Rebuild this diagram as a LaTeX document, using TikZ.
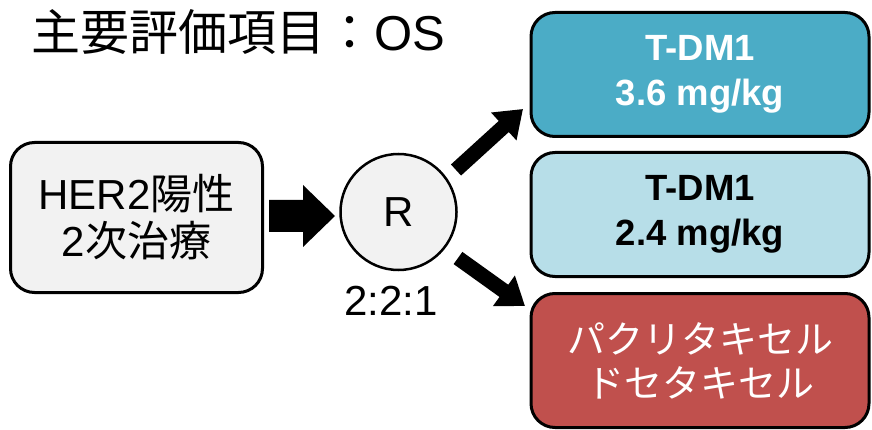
\documentclass[tikz,border=0pt]{standalone}
\usepackage{fontspec}
\setmainfont{Liberation Sans}
\newfontfamily\jp{Noto Sans CJK JP}
\usetikzlibrary{arrows.meta}
\definecolor{boxgray}{HTML}{F2F2F2}
\definecolor{tdmA}{HTML}{4BACC6}
\definecolor{tdmB}{HTML}{B7DEE8}
\definecolor{ptx}{HTML}{C0504D}
\tikzset{
  x=1pt,y=-1pt,
  rbox/.style={draw=black,line width=3pt,rounded corners=24pt,align=center,inner sep=0pt},
  armbox/.style={rbox,minimum width=338pt,minimum height=124pt},
  blockarrow/.style={fill=black},
  diagarrow/.style={line width=15pt,-{Triangle[length=26pt,width=36pt]}},
}
\begin{document}
\begin{tikzpicture}
\useasboundingbox (0,0) rectangle (872,430);
% title
\node[anchor=west,font=\jp\fontsize{49}{55}\selectfont,inner sep=0pt] (title) at (31,32) {主要評価項目：{\rmfamily OS}};
% left box
\node[rbox,fill=boxgray,minimum width=252pt,minimum height=150pt,font=\fontsize{42}{47}\selectfont] (src) at (136.5,217.5) {HER2{\jp 陽性}\\2{\jp 次治療}};
% circle
\node[draw=black,line width=2.5pt,circle,fill=boxgray,minimum size=116pt,inner sep=0pt,font=\fontsize{42}{46}\selectfont] (R) at (398.5,212) {R};
\node[font=\fontsize{42}{46}\selectfont,inner sep=0pt] (ratio) at (391,301) {2:2:1};
% arms
\node[armbox,fill=tdmA,text=white,font=\bfseries\fontsize{36.5}{45}\selectfont] (arm1) at (700,74.5) {T-DM1\\3.6 mg/kg};
\node[armbox,fill=tdmB,text=black,font=\bfseries\fontsize{36.5}{45}\selectfont] (arm2) at (700,214.5) {T-DM1\\2.4 mg/kg};
\node[armbox,fill=ptx,text=white,minimum height=134pt,font=\jp\fontsize{38}{44}\selectfont] (arm3) at (700,360.5) {パクリタキセル\\ドセタキセル};
% block arrow from src to R
\coordinate (ba) at (269,216);
\fill[blockarrow] (ba) ++(0,-16) -- ++(34,0) -- ++(0,-15) -- (335,216) -- (303,247) -- ++(0,-15) -- (269,232) -- cycle;
% diagonal arrows
\coordinate (d1s) at (456,170);
\coordinate (d1e) at (523,109);
\coordinate (d2s) at (458,258);
\coordinate (d2e) at (525,306);
\draw[diagarrow] (d1s) -- (d1e);
\draw[diagarrow] (d2s) -- (d2e);
\end{tikzpicture}
\end{document}
